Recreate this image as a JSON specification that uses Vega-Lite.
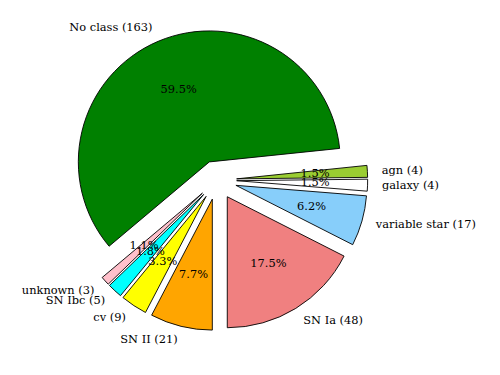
{
  "$schema": "https://vega.github.io/schema/vega-lite/v6.json",
  "autosize": "none",
  "width": 434,
  "height": 360,
  "padding": {"left": 0, "top": 0, "right": 66, "bottom": 15},
  "background": "white",
  "config": {"view": {"stroke": null}},
  "data": {
    "values": [
      {"ord": 1, "cls": "SN II", "count": 21, "label": "SN II (21)", "pct": "7.7%", "side": "left"},
      {"ord": 2, "cls": "cv", "count": 9, "label": "cv (9)", "pct": "3.3%", "side": "left"},
      {"ord": 3, "cls": "SN Ibc", "count": 5, "label": "SN Ibc (5)", "pct": "1.8%", "side": "left"},
      {"ord": 4, "cls": "unknown", "count": 3, "label": "unknown (3)", "pct": "1.1%", "side": "left"},
      {"ord": 5, "cls": "No class", "count": 163, "label": "No class (163)", "pct": "59.5%", "side": "left"},
      {"ord": 6, "cls": "agn", "count": 4, "label": "agn (4)", "pct": "1.5%", "side": "right"},
      {"ord": 7, "cls": "galaxy", "count": 4, "label": "galaxy (4)", "pct": "1.5%", "side": "right"},
      {"ord": 8, "cls": "variable star", "count": 17, "label": "variable star (17)", "pct": "6.2%", "side": "right"},
      {"ord": 9, "cls": "SN Ia", "count": 48, "label": "SN Ia (48)", "pct": "17.5%", "side": "right"}
    ]
  },
  "transform": [
    {"window": [{"op": "sum", "field": "count", "as": "c1"}], "sort": [{"field": "ord"}], "frame": [null, 0]},
    {"joinaggregate": [{"op": "sum", "field": "count", "as": "total"}]},
    {"calculate": "datum.c1 - datum.count", "as": "c0"},
    {"calculate": "datum.c1 - datum.count / 2", "as": "cm"},
    {"calculate": "PI + 2 * PI * datum.cm / datum.total", "as": "a"},
    {"calculate": "0.15 * sin(datum.a)", "as": "ex"},
    {"calculate": "0.15 * cos(datum.a)", "as": "ey"}
  ],
  "layer": [
    {
      "mark": {"type": "arc", "radius": 131, "stroke": "black", "strokeWidth": 0.9},
      "encoding": {
        "theta": {"field": "c0", "type": "quantitative", "stack": null, "scale": {"domain": [0, 274], "range": [3.14159265, 9.42477796], "zero": true, "nice": false}},
        "theta2": {"field": "c1"},
        "x": {"field": "ex", "type": "quantitative", "scale": {"domain": [-1.656, 1.656], "nice": false, "zero": false}, "axis": null},
        "y": {"field": "ey", "type": "quantitative", "scale": {"domain": [-1.374, 1.374], "nice": false, "zero": false}, "axis": null},
        "color": {
          "field": "cls", "type": "nominal", "legend": null,
          "scale": {
            "domain": ["SN II", "cv", "SN Ibc", "unknown", "No class", "agn", "galaxy", "variable star", "SN Ia"],
            "range": ["#ffa500", "#ffff00", "#00ffff", "#ffc0cb", "#008000", "#9acd32", "#ffffff", "#87cefa", "#f08080"]
          }
        }
      }
    },
    {
      "transform": [{"filter": "datum.side == 'right'"}],
      "mark": {"type": "text", "radius": 165, "align": "left", "baseline": "middle", "font": "DejaVu Serif", "fontSize": 11.4, "color": "black"},
      "encoding": {
        "theta": {"field": "cm", "type": "quantitative", "stack": null},
        "text": {"field": "label"}
      }
    },
    {
      "transform": [{"filter": "datum.side == 'left'"}],
      "mark": {"type": "text", "radius": 165, "align": "right", "baseline": "middle", "font": "DejaVu Serif", "fontSize": 11.4, "color": "black"},
      "encoding": {
        "theta": {"field": "cm", "type": "quantitative", "stack": null},
        "text": {"field": "label"}
      }
    },
    {
      "mark": {"type": "text", "radius": 98.25, "align": "center", "baseline": "middle", "font": "DejaVu Serif", "fontSize": 11.4, "color": "black"},
      "encoding": {
        "theta": {"field": "cm", "type": "quantitative", "stack": null},
        "text": {"field": "pct"}
      }
    }
  ]
}
